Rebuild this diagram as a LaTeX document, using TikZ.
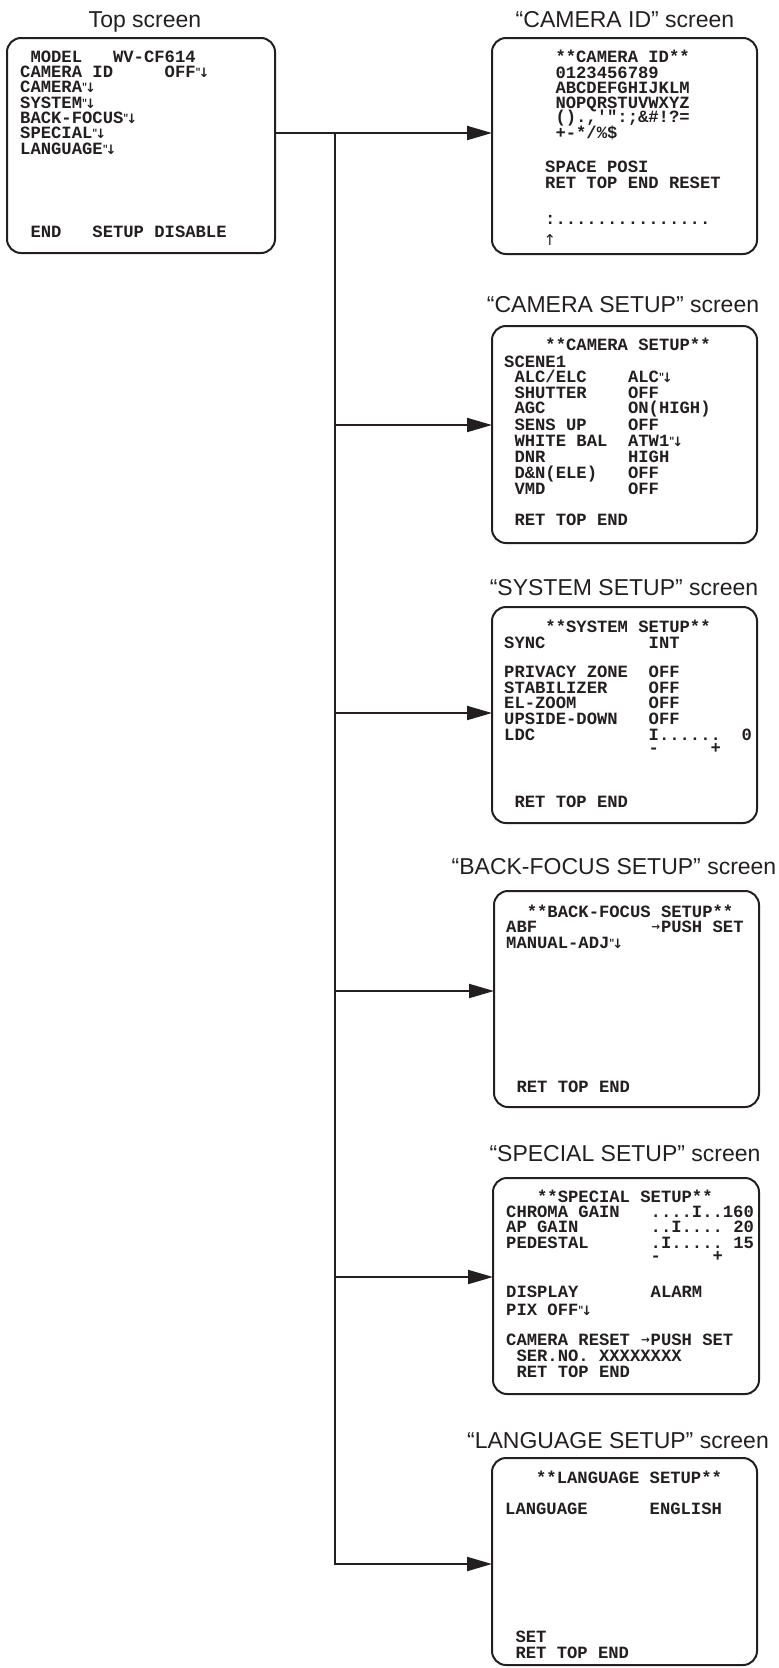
\documentclass[tikz,border=0pt]{standalone}
\usepackage{fontspec}
\setmainfont{Liberation Sans}
\setmonofont{Liberation Mono}
\newfontfamily\arrowfont{DejaVu Sans}
\usetikzlibrary{arrows.meta}
\definecolor{ink}{RGB}{35,31,32}
\newcommand\ent{\makebox[10.32pt][l]{\kern-0.5pt\raisebox{2pt}{\fontsize{10}{10}\selectfont"}\kern-2.6pt\raisebox{-0.5pt}{\arrowfont\bfseries\fontsize{13}{13}\selectfont ↓}}}
\newcommand\rarr{\makebox[10.32pt][c]{\raisebox{1.5pt}{\arrowfont\bfseries\fontsize{10.5}{10.5}\selectfont →}}}
\tikzset{
  screen/.style={draw=ink, line width=2pt, rounded corners=14pt, inner sep=0pt, outer sep=0pt},
  mono/.style={font=\ttfamily\bfseries\fontsize{17.2}{15.5}\selectfont\frenchspacing, anchor=base west, inner sep=0pt, text=ink},
  title/.style={font=\fontsize{23}{27}\selectfont, anchor=base, inner sep=0pt, text=ink},
  link/.style={draw=ink, line width=2pt},
  arr/.style={link, -{Triangle[length=25pt,width=14pt]}},
}
\newcommand\sline[4]{\node[mono] (#1) at (#2,#3) {#4};}
\begin{document}
\begin{tikzpicture}[x=1pt,y=-1pt]
\useasboundingbox (0,0) rectangle (779,1668);

% titles
\node[title] (ttop) at (145,27) {Top screen};
\node[title] (tcamid) at (625,27) {“CAMERA ID” screen};
\node[title] (tcamset) at (623,312) {“CAMERA SETUP” screen};
\node[title] (tsys) at (624,595) {“SYSTEM SETUP” screen};
\node[title] (tback) at (614,874) {“BACK-FOCUS SETUP” screen};
\node[title] (tspec) at (625,1161) {“SPECIAL SETUP” screen};
\node[title] (tlang) at (618,1448) {“LANGUAGE SETUP” screen};

% screens
\node[screen, minimum width=268pt, minimum height=215pt] (top) at (141,145.5) {};
\node[screen, minimum width=265pt, minimum height=216pt] (camid) at (624.5,146) {};
\node[screen, minimum width=265pt, minimum height=217pt] (camset) at (624.5,434.5) {};
\node[screen, minimum width=265pt, minimum height=216pt] (sys) at (624.5,715) {};
\node[screen, minimum width=265pt, minimum height=216pt] (back) at (626.5,999) {};
\node[screen, minimum width=266pt, minimum height=216pt] (spec) at (626,1286) {};
\node[screen, minimum width=265pt, minimum height=207pt] (lang) at (624.5,1561.5) {};

% connectors
\coordinate (j1) at (335,133);
\coordinate (j2) at (335,425);
\coordinate (j3) at (335,713);
\coordinate (j4) at (335,991);
\coordinate (j5) at (335,1277);
\coordinate (j6) at (335,1564);
\draw[arr] (top.east |- j1) -- (camid.west |- j1);
\draw[arr, line join=miter] (j1) -- (j6) -- (lang.west |- j6);
\draw[arr] (j2) -- (camset.west |- j2);
\draw[arr] (j3) -- (sys.west |- j3);
\draw[arr] (j4) -- (back.west |- j4);
\draw[arr] (j5) -- (spec.west |- j5);

% top screen
\sline{a1}{20}{62}{~MODEL~~~WV-CF614}
\sline{a2}{20}{77}{CAMERA~ID~~~~~OFF\ent}
\sline{a3}{20}{92}{CAMERA\ent}
\sline{a4}{20}{108}{SYSTEM\ent}
\sline{a5}{20}{123}{BACK-FOCUS\ent}
\sline{a6}{20}{138}{SPECIAL\ent}
\sline{a7}{20}{154}{LANGUAGE\ent}
\sline{a8}{20}{237}{~END~~~SETUP~DISABLE}

% camera id
\sline{b1}{545}{62}{~**CAMERA~ID**}
\sline{b2}{545}{78}{~0123456789}
\sline{b3}{545}{93}{~ABCDEFGHIJKLM}
\sline{b4}{545}{108}{~NOPQRSTUVWXYZ}
\sline{b5}{545}{122}{~().,'":;\&\#!?=}
\sline{b6}{545}{138}{~+-*/\%\$}
\sline{b7}{545}{172}{SPACE~POSI}
\sline{b8}{545}{188}{RET~TOP~END~RESET}
\sline{b9}{545}{224}{:...............}
\node[font=\arrowfont\fontsize{15}{15}\selectfont, inner sep=0pt, text=ink] (cursor) at (550,240) {↑};

% camera setup
\sline{c1}{504}{350}{~~~~**CAMERA~SETUP**}
\sline{c2}{504}{367}{SCENE1}
\sline{c3}{504}{382}{~ALC/ELC~~~~ALC\ent}
\sline{c4}{504}{398}{~SHUTTER~~~~OFF}
\sline{c5}{504}{413}{~AGC~~~~~~~~ON(HIGH)}
\sline{c6}{504}{430}{~SENS~UP~~~~OFF}
\sline{c7}{504}{446}{~WHITE~BAL~~ATW1\ent}
\sline{c8}{504}{462}{~DNR~~~~~~~~HIGH}
\sline{c9}{504}{478}{~D\&N(ELE)~~~OFF}
\sline{c10}{504}{494}{~VMD~~~~~~~~OFF}
\sline{c11}{504}{525}{~RET~TOP~END}

% system setup
\sline{d1}{504}{632}{~~~~**SYSTEM~SETUP**}
\sline{d2}{504}{648}{SYNC~~~~~~~~~~INT}
\sline{d3}{504}{677}{PRIVACY~ZONE~~OFF}
\sline{d4}{504}{693}{STABILIZER~~~~OFF}
\sline{d5}{504}{708}{EL-ZOOM~~~~~~~OFF}
\sline{d6}{504}{724}{UPSIDE-DOWN~~~OFF}
\sline{d7}{504}{740}{LDC~~~~~~~~~~~I......~~0}
\sline{d8}{648.5}{753}{-~~~~~+}
\sline{d9}{504}{807}{~RET~TOP~END}

% back-focus setup
\sline{e1}{506}{917}{~~**BACK-FOCUS~SETUP**}
\sline{e2}{506}{932}{ABF~~~~~~~~~~~\rarr PUSH~SET}
\sline{e3}{506}{948}{MANUAL-ADJ\ent}
\sline{e4}{506}{1092}{~RET~TOP~END}

% special setup
\sline{f1}{506}{1202}{~~~**SPECIAL~SETUP**}
\sline{f2}{506}{1217}{CHROMA~GAIN~~~....I..160}
\sline{f3}{506}{1232}{AP~GAIN~~~~~~~..I....~20}
\sline{f4}{506}{1248}{PEDESTAL~~~~~~.I.....~15}
\sline{f5}{650.5}{1261}{-~~~~~+}
\sline{f6}{506}{1297}{DISPLAY~~~~~~~ALARM}
\sline{f7}{506}{1315}{PIX~OFF\ent}
\sline{f8}{506}{1345}{CAMERA~RESET~\rarr PUSH~SET}
\sline{f9}{506}{1361}{~SER.NO.~XXXXXXXX}
\sline{f10}{506}{1377}{~RET~TOP~END}

% language setup
\sline{g1}{505}{1483}{~~~**LANGUAGE~SETUP**}
\sline{g2}{505}{1514}{LANGUAGE~~~~~~ENGLISH}
\sline{g3}{505}{1642}{~SET}
\sline{g4}{505}{1658}{~RET~TOP~END}
\end{tikzpicture}
\end{document}
